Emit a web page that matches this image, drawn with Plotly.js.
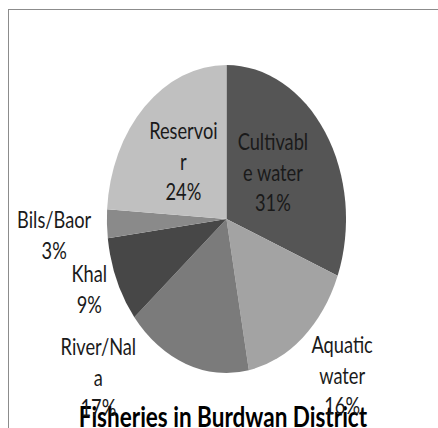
<!DOCTYPE html>
<html>
<head>
<meta charset="utf-8">
<script src="https://cdn.plot.ly/plotly-3.0.1.min.js"></script>
<style>
html,body{margin:0;padding:0;background:#fff;overflow:hidden;width:438px;height:428px;}
#wrap{position:absolute;left:0;top:0;width:564px;height:428px;transform:scaleX(0.7766);transform-origin:0 0;}
#frame{position:absolute;left:8px;top:9px;width:600px;height:500px;border:1.5px solid #8c8c8c;}
#chart{position:absolute;left:0;top:0;width:564px;height:428px;}
</style>
</head>
<body>
<div id="frame"></div>
<div id="wrap"><div id="chart"></div></div>
<script>
const categories = ["Cultivable water", "Aquatic water", "River/Nala", "Khal", "Bils/Baor", "Reservoir"];
const labelText = ["Cultivabl<br>e water", "Aquatic<br>water", "River/Nal<br>a", "Khal", "Bils/Baor", "Reservoi<br>r"];
const values = [31, 16, 17, 9, 3, 24];
const colors = ["#555555", "#a3a3a3", "#7b7b7b", "#474747", "#8a8a8a", "#c0c0c0"];

const W = 564, H = 428;
// label centres in (unsqueezed) pixels
const labelPos = [[351, 171], [440, 374], [126, 376], [115, 288], [70, 234], [236, 161]];

const annotations = categories.map((c, i) => ({
  xref: "paper", yref: "paper",
  x: labelPos[i][0] / W, y: 1 - labelPos[i][1] / H,
  xanchor: "center", yanchor: "middle",
  text: labelText[i] + "<br>" + values[i] + "%",
  showarrow: false,
  font: {family: "Lato, 'Open Sans', sans-serif", size: 23.5, color: "#1a1a1a"}
}));

const trace = {
  type: "pie",
  labels: categories,
  values: values,
  sort: false,
  direction: "clockwise",
  rotation: 0,
  textinfo: "none",
  hoverinfo: "label+percent",
  marker: {colors: colors, line: {width: 0}},
  domain: {x: [0.244, 0.790], y: [0.1285, 0.8481]},
  showlegend: false
};

const layout = {
  width: W, height: H,
  margin: {l: 0, r: 0, t: 0, b: 0},
  paper_bgcolor: "rgba(0,0,0,0)",
  plot_bgcolor: "rgba(0,0,0,0)",
  showlegend: false,
  annotations: annotations,
  title: {
    text: "<b>Fisheries in Burdwan District</b>",
    x: 287 / W, xanchor: "center",
    yref: "container", y: 1 - 417 / H, yanchor: "middle",
    font: {family: "Lato, 'Open Sans', sans-serif", size: 29, color: "#000"}
  }
};

Plotly.newPlot("chart", [trace], layout, {staticPlot: true, displayModeBar: false});
</script>
</body>
</html>
